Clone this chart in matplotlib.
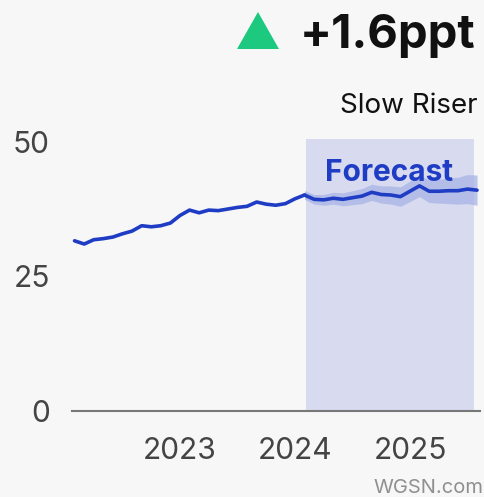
import matplotlib
matplotlib.use("Agg")
import matplotlib.pyplot as plt
from matplotlib.patches import Polygon

# ---- data ----
hist_x = [2022.083, 2022.167, 2022.25, 2022.333, 2022.417, 2022.5, 2022.583, 2022.667,
          2022.75, 2022.833, 2022.917, 2023.0, 2023.083, 2023.167, 2023.25, 2023.333,
          2023.417, 2023.5, 2023.583, 2023.667, 2023.75, 2023.833, 2023.917, 2024.0, 2024.083]
hist_y = [31.6, 31.0, 31.8, 32.0, 32.3, 32.9, 33.4, 34.4, 34.2, 34.4, 34.9, 36.3, 37.3,
          36.8, 37.3, 37.2, 37.5, 37.8, 38.0, 38.8, 38.4, 38.2, 38.5, 39.4, 40.1]

fc_x = [2024.083, 2024.167, 2024.25, 2024.333, 2024.417, 2024.5, 2024.583, 2024.667,
        2024.75, 2024.833, 2024.917, 2025.0, 2025.083, 2025.167, 2025.25, 2025.333,
        2025.417, 2025.5, 2025.583]
fc_y = [40.1, 39.3, 39.2, 39.5, 39.3, 39.6, 39.9, 40.6, 40.2, 40.1, 39.8, 40.8, 41.8,
        40.8, 40.8, 40.9, 40.9, 41.2, 41.0]
fc_upper = [40.9, 40.2, 40.2, 40.6, 40.5, 40.9, 41.3, 42.1, 41.8, 41.8, 41.6, 42.7, 43.8,
            42.9, 43.0, 43.3, 43.4, 43.9, 43.8]
fc_lower = [39.3, 38.4, 38.2, 38.4, 38.1, 38.3, 38.5, 39.1, 38.6, 38.4, 38.0, 38.9, 39.8,
            38.7, 38.6, 38.5, 38.4, 38.5, 38.2]

forecast_span = [2024.096, 2025.557]
year_ticks = [2023, 2024, 2025]
year_labels = ["2023", "2024", "2025"]
y_ticks = [0, 25, 50]
y_labels = ["0", "25", "50"]
change_label = "+1.6ppt"
category_label = "Slow Riser"

# ---- style ----
plt.rcParams['font.family'] = ['Inter', 'DejaVu Sans']
BG = "#f7f7f7"
LINE = "#1f3cc4"
W, H = 485, 497

fig = plt.figure(figsize=(W / 100, H / 100), dpi=100, facecolor=BG)
ax = fig.add_axes([72 / W, 1 - 411 / H, 408 / W, 272 / H])
ax.set_facecolor(BG)

ax.axvspan(forecast_span[0], forecast_span[1], ymin=0, ymax=1, color="#d8dbef", lw=0, zorder=0)
ax.fill_between(fc_x, fc_lower, fc_upper, color="#a7b3e6", alpha=0.75, lw=0, zorder=1)
ax.plot(hist_x, hist_y, color=LINE, lw=2.6, solid_capstyle='round', zorder=3)
ax.plot(fc_x, fc_y, color=LINE, lw=2.6, solid_capstyle='round', zorder=3)

ax.set_xlim(2022.061, 2025.609)
ax.set_ylim(0, 50.5)
ax.set_xticks(year_ticks)
ax.set_xticklabels(year_labels)
ax.set_yticks(y_ticks)
ax.set_yticklabels(y_labels)
ax.tick_params(axis='both', length=0, labelsize=21.5, colors="#444444")
ax.tick_params(axis='x', pad=19)
ax.tick_params(axis='y', pad=16)
for s in ['top', 'right', 'left']:
    ax.spines[s].set_visible(False)
ax.spines['bottom'].set_color("#777777")
ax.spines['bottom'].set_linewidth(1.5)

ax.text((forecast_span[0] + forecast_span[1]) / 2 - 0.01, 42.7, "Forecast", ha='center',
        va='baseline', fontsize=21.5, fontweight='bold', color=LINE, zorder=4)

# header
fig.text(475 / W, 1 - 48 / H, change_label, ha='right', va='baseline', fontsize=34,
         fontweight='bold', color="#111111")
tri = Polygon([[237 / W, 1 - 49 / H], [279 / W, 1 - 49 / H], [258 / W, 1 - 12 / H]],
              closed=True, transform=fig.transFigure, facecolor="#1dc97f", edgecolor='none')
fig.patches.append(tri)
fig.text(478 / W, 1 - 113 / H, category_label, ha='right', va='baseline', fontsize=20,
         color="#111111")
fig.text(373 / W, 1 - 493 / H, "WGSN.com", ha='left', va='baseline', fontsize=14.5,
         color="#8f8f8f")

fig.savefig("out.png", dpi=100, facecolor=BG)
